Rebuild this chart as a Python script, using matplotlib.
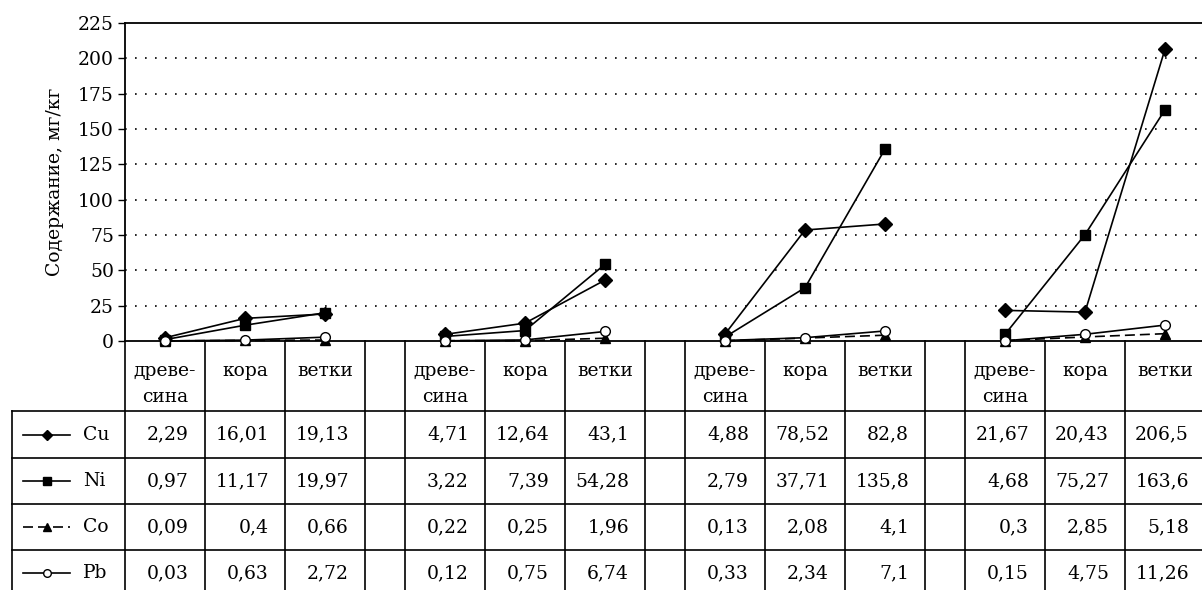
import matplotlib.pyplot as plt

plt.rcParams['font.family'] = ['DejaVu Serif']

# части дерева и элементы
parts = ['древе-\nсина', 'кора', 'ветки']
elements = ['Cu', 'Ni', 'Co', 'Pb']

# содержание, мг/кг (4 группы по 3 части)
cu = [[2.29, 16.01, 19.13], [4.71, 12.64, 43.1], [4.88, 78.52, 82.8], [21.67, 20.43, 206.5]]
ni = [[0.97, 11.17, 19.97], [3.22, 7.39, 54.28], [2.79, 37.71, 135.8], [4.68, 75.27, 163.6]]
co = [[0.09, 0.4, 0.66], [0.22, 0.25, 1.96], [0.13, 2.08, 4.1], [0.3, 2.85, 5.18]]
pb = [[0.03, 0.63, 2.72], [0.12, 0.75, 6.74], [0.33, 2.34, 7.1], [0.15, 4.75, 11.26]]

yticks = list(range(0, 226, 25))

series = {'Cu': cu, 'Ni': ni, 'Co': co, 'Pb': pb}
styles = {
    'Cu': dict(marker='D', ms=7, ls='-', mfc='black'),
    'Ni': dict(marker='s', ms=7, ls='-', mfc='black'),
    'Co': dict(marker='^', ms=7, ls=(0, (6, 3)), mfc='black'),
    'Pb': dict(marker='o', ms=7, ls='-', mfc='white'),
}

W, H = 1202, 590
step = 3.5  # 3 колонки + промежуток
ngroups = len(cu)
xmax = step * ngroups - 0.5
pxu = 80.0  # пикселей на колонку
y0 = 341    # пиксель оси x сверху

fig = plt.figure(figsize=(W / 100, H / 100), dpi=100)
ax = fig.add_axes([125 / W, (H - y0) / H, xmax * pxu / W, (y0 - 23) / H])
ax.set_xlim(0, xmax)
ax.set_ylim(0, 225)

for y in yticks[1:-1]:
    ax.axhline(y, color='black', lw=1.2, ls=(0, (1, 5)), zorder=0)

for el in elements:
    for g in range(ngroups):
        xs = [step * g + i + 0.5 for i in range(3)]
        ax.plot(xs, series[el][g], color='black', lw=1.2, mec='black',
                clip_on=False, zorder=3, **styles[el])

ax.set_xticks([])
ax.set_yticks(yticks)
ax.tick_params(axis='y', direction='out', length=5, width=1, labelsize=13.5, pad=3)
for s in ax.spines.values():
    s.set_linewidth(1.3)
ax.set_ylabel('Содержание, мг/кг', fontsize=13.5, labelpad=10)

# таблица под графиком
tab = fig.add_axes([125 / W, 0, xmax * pxu / W, (H - y0) / H])
tab.set_xlim(0, xmax)
tab.set_ylim(H, y0)
tab.axis('off')

xleft = -113 / pxu
rows = [411, 458, 504, 550, 596]
kw = dict(color='black', lw=1.2, clip_on=False)

for g in range(ngroups):
    for k in range(4):
        x = step * g + k
        tab.plot([x, x], [y0, H + 5], **kw)
tab.plot([xleft, xleft], [rows[0], H + 5], **kw)
for y in rows[:-1]:
    tab.plot([xleft, xmax], [y, y], **kw)

for g in range(ngroups):
    for i, p in enumerate(parts):
        xc = step * g + i + 0.5
        for j, line in enumerate(p.split('\n')):
            tab.text(xc, 376 + 26 * j, line, ha='center', va='baseline', fontsize=13.5)

for r, el in enumerate(elements):
    yc = (rows[r] + rows[r + 1]) / 2
    st = styles[el]
    tab.plot([-1.275, -0.6875], [yc, yc], color='black', lw=1.2, ls=st['ls'], clip_on=False)
    tab.plot([-0.98], [yc], marker=st['marker'], ms=st['ms'] - 1.5, mfc=st['mfc'],
             mec='black', color='black', clip_on=False)
    tab.text(-0.53, yc, el, ha='left', va='center', fontsize=13.5)
    for g in range(ngroups):
        for i in range(3):
            v = series[el][g][i]
            xr = step * g + i + 1 - 0.2
            tab.text(xr, yc, str(v).replace('.', ','), ha='right', va='center', fontsize=13.5)

fig.savefig('out.png', dpi=100)
